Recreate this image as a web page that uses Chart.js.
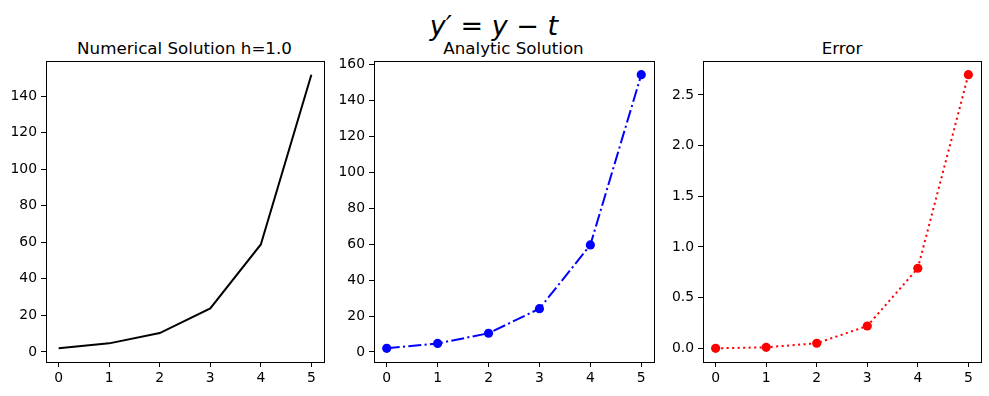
<!DOCTYPE html>
<html>
<head>
<meta charset="utf-8">
<script src="https://cdn.jsdelivr.net/npm/chart.js@4"></script>
<style>
  body { margin: 0; background: #fff; width: 989px; height: 396px; position: relative; overflow: hidden; font-family: "DejaVu Sans", sans-serif; }
  .box { position: absolute; }
  .ttl { position: absolute; font-size: 16.7px; color: #000; transform: translateX(-50%); white-space: nowrap; }
  #sup { position: absolute; left: 494px; top: 10px; transform: translateX(-50%); font-size: 27px; white-space: nowrap; }
  #sup i { font-family: "DejaVu Sans", sans-serif; font-style: oblique; }
</style>
</head>
<body>
<div id="sup"><i>y</i><i>′</i> = <i>y</i> − <i>t</i></div>
<div class="ttl" style="left:184.5px; top:38px">Numerical Solution h=1.0</div>
<div class="ttl" style="left:513.5px; top:38px">Analytic Solution</div>
<div class="ttl" style="left:842px; top:38px">Error</div>
<div class="box" style="left:0px; top:56px; width:330px; height:340px"><canvas id="c1"></canvas></div>
<div class="box" style="left:328px; top:56px; width:332px; height:340px"><canvas id="c2"></canvas></div>
<div class="box" style="left:657px; top:56px; width:330px; height:340px"><canvas id="c3"></canvas></div>
<script>
const tValues = [0, 1, 2, 3, 4, 5];
const numerical = [2, 4.71, 10.34, 23.87, 58.81, 151.71];
const analytic = [2, 4.72, 10.39, 24.09, 59.60, 154.41];
const errorVals = [0, 0.01, 0.05, 0.22, 0.79, 2.70];

const xTicks = [0, 1, 2, 3, 4, 5];
const yTicks1 = [0, 20, 40, 60, 80, 100, 120, 140];
const yTicks2 = [0, 20, 40, 60, 80, 100, 120, 140, 160];
const yTicks3 = [0, 0.5, 1.0, 1.5, 2.0, 2.5];

const tickFont = { family: 'DejaVu Sans', size: 13.9 };

// full frame round the plot area, like matplotlib spines
const frame = {
  id: 'frame',
  afterDraw(chart) {
    const a = chart.chartArea, ctx = chart.ctx;
    ctx.save();
    ctx.strokeStyle = '#000';
    ctx.lineWidth = 1;
    ctx.strokeRect(Math.round(a.left) + 0.5, Math.round(a.top) + 0.5,
      Math.round(a.right - a.left), Math.round(a.bottom - a.top));
    ctx.restore();
  }
};

function limits(vals) {
  const lo = Math.min(...vals), hi = Math.max(...vals);
  const m = (hi - lo) * 0.05;
  return [lo - m, hi + m];
}

function makeChart(id, vals, yTicks, ds, fmt) {
  const [ymin, ymax] = limits(vals);
  return new Chart(document.getElementById(id), {
    type: 'line',
    data: {
      datasets: [Object.assign({
        data: tValues.map((t, i) => ({ x: t, y: vals[i] })),
        fill: false,
        tension: 0
      }, ds)]
    },
    options: {
      responsive: true,
      maintainAspectRatio: false,
      animation: false,
      layout: { padding: { top: 5, right: 6, left: 0, bottom: 0 } },
      plugins: { legend: { display: false }, tooltip: { enabled: false } },
      scales: {
        x: {
          type: 'linear',
          min: -0.25, max: 5.25,
          afterBuildTicks: s => { s.ticks = xTicks.map(v => ({ value: v })); },
          afterFit: s => { s.height = 34; s.paddingLeft = 0; s.paddingRight = 0; },
          grid: { drawOnChartArea: false, drawTicks: true, tickLength: 5, color: '#000' },
          border: { display: true, color: '#000' },
          ticks: { color: '#000', font: tickFont, padding: 3, maxRotation: 0 }
        },
        y: {
          type: 'linear',
          min: ymin, max: ymax,
          afterBuildTicks: s => { s.ticks = yTicks.map(v => ({ value: v })); },
          afterFit: s => { s.width = 46; s.paddingTop = 0; s.paddingBottom = 0; },
          grid: { drawOnChartArea: false, drawTicks: true, tickLength: 5, color: '#000' },
          border: { display: true, color: '#000' },
          ticks: { color: '#000', font: tickFont, padding: 4, callback: fmt }
        }
      }
    },
    plugins: [frame]
  });
}

makeChart('c1', numerical, yTicks1, {
  borderColor: '#000', borderWidth: 2, pointRadius: 0
}, v => String(v));

makeChart('c2', analytic, yTicks2, {
  borderColor: '#0000ff', borderWidth: 2, borderDash: [13, 3.3, 2.1, 3.3],
  pointRadius: 4.6, pointBackgroundColor: '#0000ff', pointBorderColor: '#0000ff', pointBorderWidth: 0
}, v => String(v));

makeChart('c3', errorVals, yTicks3, {
  borderColor: '#ff0000', borderWidth: 2, borderDash: [2.1, 3.4],
  pointRadius: 4.6, pointBackgroundColor: '#ff0000', pointBorderColor: '#ff0000', pointBorderWidth: 0
}, v => v.toFixed(1));
</script>
</body>
</html>
